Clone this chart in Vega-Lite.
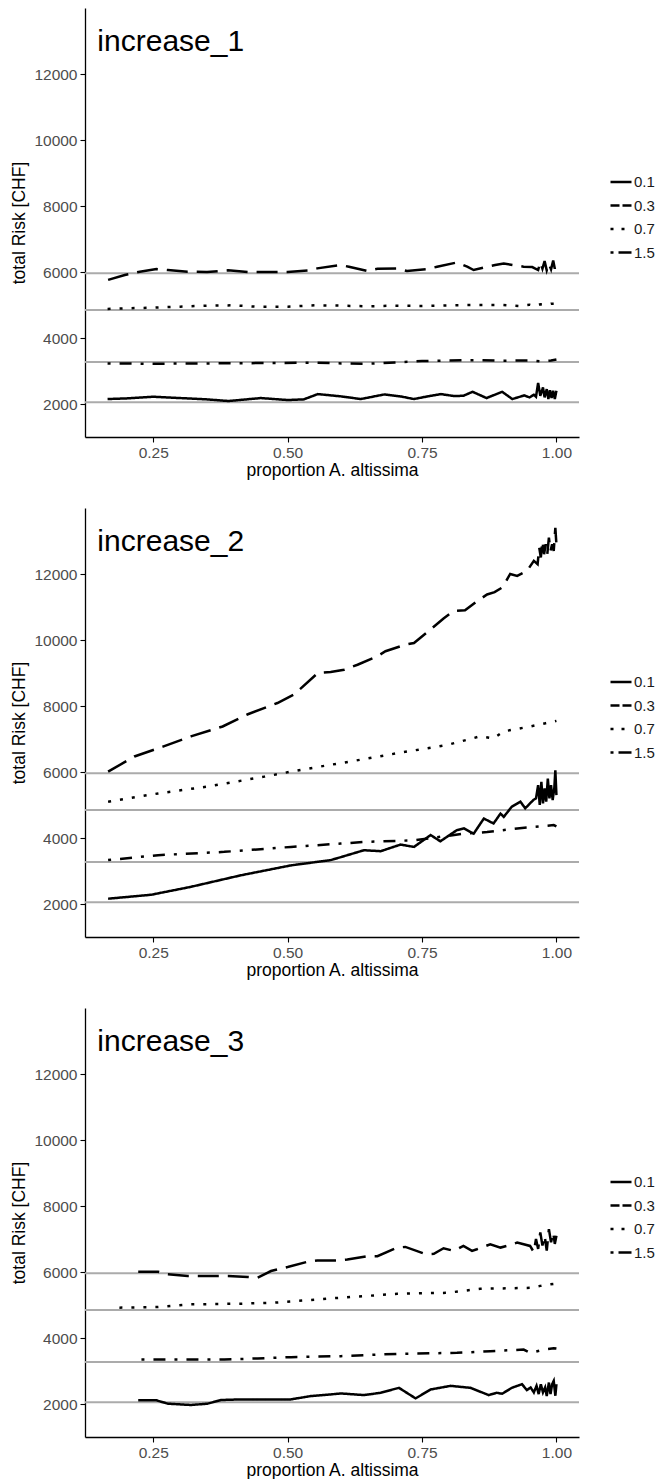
{
  "$schema": "https://vega.github.io/schema/vega-lite/v6.json",
  "padding": {"left": 10, "top": 8, "right": 0, "bottom": 0},
  "background": "white",
  "datasets": {
    "r": [{"y": 5960}, {"y": 4850}, {"y": 3275}, {"y": 2050}],
    "t": [
      {"p": 1, "x": 0.146, "y": 12700, "label": "increase_1"},
      {"p": 2, "x": 0.146, "y": 12700, "label": "increase_2"},
      {"p": 3, "x": 0.146, "y": 12700, "label": "increase_3"}
    ],
    "s": [
      {"p":1,"k":"0.1","x":0.165,"y":2150},{"p":1,"k":"0.1","x":0.2,"y":2170},{"p":1,"k":"0.1","x":0.25,"y":2220},{"p":1,"k":"0.1","x":0.3,"y":2180},{"p":1,"k":"0.1","x":0.35,"y":2140},{"p":1,"k":"0.1","x":0.39,"y":2090},{"p":1,"k":"0.1","x":0.45,"y":2180},{"p":1,"k":"0.1","x":0.5,"y":2120},{"p":1,"k":"0.1","x":0.53,"y":2140},{"p":1,"k":"0.1","x":0.556,"y":2300},{"p":1,"k":"0.1","x":0.6,"y":2230},{"p":1,"k":"0.1","x":0.636,"y":2150},{"p":1,"k":"0.1","x":0.68,"y":2290},{"p":1,"k":"0.1","x":0.71,"y":2230},{"p":1,"k":"0.1","x":0.735,"y":2150},{"p":1,"k":"0.1","x":0.76,"y":2230},{"p":1,"k":"0.1","x":0.785,"y":2300},{"p":1,"k":"0.1","x":0.81,"y":2240},{"p":1,"k":"0.1","x":0.827,"y":2250},{"p":1,"k":"0.1","x":0.844,"y":2370},{"p":1,"k":"0.1","x":0.87,"y":2180},{"p":1,"k":"0.1","x":0.899,"y":2370},{"p":1,"k":"0.1","x":0.918,"y":2150},{"p":1,"k":"0.1","x":0.94,"y":2260},{"p":1,"k":"0.1","x":0.95,"y":2200},{"p":1,"k":"0.1","x":0.958,"y":2280},{"p":1,"k":"0.1","x":0.962,"y":2220},{"p":1,"k":"0.1","x":0.966,"y":2640},{"p":1,"k":"0.1","x":0.97,"y":2250},{"p":1,"k":"0.1","x":0.975,"y":2500},{"p":1,"k":"0.1","x":0.978,"y":2200},{"p":1,"k":"0.1","x":0.982,"y":2450},{"p":1,"k":"0.1","x":0.985,"y":2150},{"p":1,"k":"0.1","x":0.988,"y":2420},{"p":1,"k":"0.1","x":0.991,"y":2180},{"p":1,"k":"0.1","x":0.994,"y":2400},{"p":1,"k":"0.1","x":0.997,"y":2150},{"p":1,"k":"0.1","x":1.0,"y":2400},
      {"p":1,"k":"0.3","x":0.166,"y":5760},{"p":1,"k":"0.3","x":0.197,"y":5910},{"p":1,"k":"0.3","x":0.225,"y":6010},{"p":1,"k":"0.3","x":0.256,"y":6090},{"p":1,"k":"0.3","x":0.277,"y":6060},{"p":1,"k":"0.3","x":0.314,"y":6010},{"p":1,"k":"0.3","x":0.35,"y":6000},{"p":1,"k":"0.3","x":0.389,"y":6050},{"p":1,"k":"0.3","x":0.426,"y":6000},{"p":1,"k":"0.3","x":0.46,"y":6000},{"p":1,"k":"0.3","x":0.5,"y":6000},{"p":1,"k":"0.3","x":0.54,"y":6050},{"p":1,"k":"0.3","x":0.555,"y":6110},{"p":1,"k":"0.3","x":0.599,"y":6210},{"p":1,"k":"0.3","x":0.614,"y":6160},{"p":1,"k":"0.3","x":0.648,"y":6030},{"p":1,"k":"0.3","x":0.667,"y":6100},{"p":1,"k":"0.3","x":0.704,"y":6110},{"p":1,"k":"0.3","x":0.722,"y":6030},{"p":1,"k":"0.3","x":0.76,"y":6090},{"p":1,"k":"0.3","x":0.778,"y":6160},{"p":1,"k":"0.3","x":0.815,"y":6290},{"p":1,"k":"0.3","x":0.834,"y":6160},{"p":1,"k":"0.3","x":0.846,"y":6060},{"p":1,"k":"0.3","x":0.871,"y":6160},{"p":1,"k":"0.3","x":0.886,"y":6210},{"p":1,"k":"0.3","x":0.902,"y":6260},{"p":1,"k":"0.3","x":0.92,"y":6210},{"p":1,"k":"0.3","x":0.939,"y":6160},{"p":1,"k":"0.3","x":0.955,"y":6150},{"p":1,"k":"0.3","x":0.966,"y":6060},{"p":1,"k":"0.3","x":0.97,"y":6300},{"p":1,"k":"0.3","x":0.974,"y":6100},{"p":1,"k":"0.3","x":0.978,"y":6330},{"p":1,"k":"0.3","x":0.982,"y":6050},{"p":1,"k":"0.3","x":0.986,"y":6250},{"p":1,"k":"0.3","x":0.99,"y":6080},{"p":1,"k":"0.3","x":0.994,"y":6350},{"p":1,"k":"0.3","x":0.997,"y":6100},{"p":1,"k":"0.3","x":1.0,"y":6300},
      {"p":1,"k":"0.7","x":0.165,"y":4880},{"p":1,"k":"0.7","x":0.2,"y":4900},{"p":1,"k":"0.7","x":0.25,"y":4920},{"p":1,"k":"0.7","x":0.3,"y":4950},{"p":1,"k":"0.7","x":0.35,"y":4980},{"p":1,"k":"0.7","x":0.4,"y":4990},{"p":1,"k":"0.7","x":0.44,"y":4950},{"p":1,"k":"0.7","x":0.5,"y":4950},{"p":1,"k":"0.7","x":0.55,"y":4990},{"p":1,"k":"0.7","x":0.6,"y":4980},{"p":1,"k":"0.7","x":0.65,"y":4960},{"p":1,"k":"0.7","x":0.7,"y":4980},{"p":1,"k":"0.7","x":0.75,"y":4970},{"p":1,"k":"0.7","x":0.8,"y":4990},{"p":1,"k":"0.7","x":0.85,"y":5000},{"p":1,"k":"0.7","x":0.9,"y":5000},{"p":1,"k":"0.7","x":0.93,"y":4970},{"p":1,"k":"0.7","x":0.95,"y":5010},{"p":1,"k":"0.7","x":0.96,"y":4970},{"p":1,"k":"0.7","x":0.97,"y":5020},{"p":1,"k":"0.7","x":0.98,"y":5000},{"p":1,"k":"0.7","x":0.99,"y":5040},{"p":1,"k":"0.7","x":1.0,"y":5040},
      {"p":1,"k":"1.5","x":0.165,"y":3230},{"p":1,"k":"1.5","x":0.25,"y":3220},{"p":1,"k":"1.5","x":0.35,"y":3230},{"p":1,"k":"1.5","x":0.45,"y":3240},{"p":1,"k":"1.5","x":0.55,"y":3250},{"p":1,"k":"1.5","x":0.6,"y":3230},{"p":1,"k":"1.5","x":0.65,"y":3220},{"p":1,"k":"1.5","x":0.7,"y":3260},{"p":1,"k":"1.5","x":0.75,"y":3300},{"p":1,"k":"1.5","x":0.8,"y":3320},{"p":1,"k":"1.5","x":0.85,"y":3330},{"p":1,"k":"1.5","x":0.9,"y":3310},{"p":1,"k":"1.5","x":0.95,"y":3320},{"p":1,"k":"1.5","x":0.97,"y":3290},{"p":1,"k":"1.5","x":0.99,"y":3320},{"p":1,"k":"1.5","x":1.0,"y":3350},
      {"p":2,"k":"0.1","x":0.166,"y":2160},{"p":2,"k":"0.1","x":0.246,"y":2280},{"p":2,"k":"0.1","x":0.32,"y":2520},{"p":2,"k":"0.1","x":0.413,"y":2870},{"p":2,"k":"0.1","x":0.506,"y":3170},{"p":2,"k":"0.1","x":0.58,"y":3330},{"p":2,"k":"0.1","x":0.599,"y":3420},{"p":2,"k":"0.1","x":0.642,"y":3630},{"p":2,"k":"0.1","x":0.673,"y":3600},{"p":2,"k":"0.1","x":0.71,"y":3800},{"p":2,"k":"0.1","x":0.735,"y":3730},{"p":2,"k":"0.1","x":0.766,"y":4090},{"p":2,"k":"0.1","x":0.784,"y":3900},{"p":2,"k":"0.1","x":0.815,"y":4240},{"p":2,"k":"0.1","x":0.828,"y":4290},{"p":2,"k":"0.1","x":0.846,"y":4130},{"p":2,"k":"0.1","x":0.865,"y":4590},{"p":2,"k":"0.1","x":0.883,"y":4440},{"p":2,"k":"0.1","x":0.896,"y":4740},{"p":2,"k":"0.1","x":0.902,"y":4640},{"p":2,"k":"0.1","x":0.917,"y":4950},{"p":2,"k":"0.1","x":0.933,"y":5100},{"p":2,"k":"0.1","x":0.942,"y":4900},{"p":2,"k":"0.1","x":0.957,"y":5150},{"p":2,"k":"0.1","x":0.962,"y":5200},{"p":2,"k":"0.1","x":0.966,"y":5600},{"p":2,"k":"0.1","x":0.969,"y":5000},{"p":2,"k":"0.1","x":0.972,"y":5700},{"p":2,"k":"0.1","x":0.975,"y":5050},{"p":2,"k":"0.1","x":0.978,"y":5500},{"p":2,"k":"0.1","x":0.981,"y":5100},{"p":2,"k":"0.1","x":0.984,"y":5800},{"p":2,"k":"0.1","x":0.987,"y":5200},{"p":2,"k":"0.1","x":0.99,"y":5600},{"p":2,"k":"0.1","x":0.993,"y":5150},{"p":2,"k":"0.1","x":0.996,"y":5500},{"p":2,"k":"0.1","x":0.998,"y":6050},{"p":2,"k":"0.1","x":1.0,"y":5300},
      {"p":2,"k":"0.3","x":0.166,"y":6010},{"p":2,"k":"0.3","x":0.215,"y":6470},{"p":2,"k":"0.3","x":0.268,"y":6770},{"p":2,"k":"0.3","x":0.32,"y":7080},{"p":2,"k":"0.3","x":0.379,"y":7380},{"p":2,"k":"0.3","x":0.426,"y":7750},{"p":2,"k":"0.3","x":0.481,"y":8090},{"p":2,"k":"0.3","x":0.512,"y":8350},{"p":2,"k":"0.3","x":0.556,"y":9000},{"p":2,"k":"0.3","x":0.58,"y":9030},{"p":2,"k":"0.3","x":0.605,"y":9100},{"p":2,"k":"0.3","x":0.63,"y":9250},{"p":2,"k":"0.3","x":0.667,"y":9510},{"p":2,"k":"0.3","x":0.682,"y":9660},{"p":2,"k":"0.3","x":0.719,"y":9860},{"p":2,"k":"0.3","x":0.735,"y":9910},{"p":2,"k":"0.3","x":0.766,"y":10320},{"p":2,"k":"0.3","x":0.79,"y":10650},{"p":2,"k":"0.3","x":0.809,"y":10880},{"p":2,"k":"0.3","x":0.83,"y":10900},{"p":2,"k":"0.3","x":0.85,"y":11150},{"p":2,"k":"0.3","x":0.871,"y":11380},{"p":2,"k":"0.3","x":0.885,"y":11450},{"p":2,"k":"0.3","x":0.9,"y":11600},{"p":2,"k":"0.3","x":0.914,"y":12000},{"p":2,"k":"0.3","x":0.927,"y":11940},{"p":2,"k":"0.3","x":0.945,"y":12090},{"p":2,"k":"0.3","x":0.958,"y":12400},{"p":2,"k":"0.3","x":0.965,"y":12300},{"p":2,"k":"0.3","x":0.968,"y":12800},{"p":2,"k":"0.3","x":0.971,"y":12500},{"p":2,"k":"0.3","x":0.974,"y":13000},{"p":2,"k":"0.3","x":0.977,"y":12600},{"p":2,"k":"0.3","x":0.98,"y":12900},{"p":2,"k":"0.3","x":0.983,"y":12600},{"p":2,"k":"0.3","x":0.986,"y":13100},{"p":2,"k":"0.3","x":0.989,"y":12700},{"p":2,"k":"0.3","x":0.992,"y":12900},{"p":2,"k":"0.3","x":0.995,"y":12700},{"p":2,"k":"0.3","x":0.998,"y":13400},{"p":2,"k":"0.3","x":1.0,"y":12900},
      {"p":2,"k":"0.7","x":0.166,"y":5100},{"p":2,"k":"0.7","x":0.259,"y":5350},{"p":2,"k":"0.7","x":0.351,"y":5560},{"p":2,"k":"0.7","x":0.457,"y":5860},{"p":2,"k":"0.7","x":0.506,"y":6010},{"p":2,"k":"0.7","x":0.58,"y":6220},{"p":2,"k":"0.7","x":0.6,"y":6270},{"p":2,"k":"0.7","x":0.704,"y":6570},{"p":2,"k":"0.7","x":0.797,"y":6820},{"p":2,"k":"0.7","x":0.858,"y":7080},{"p":2,"k":"0.7","x":0.883,"y":7020},{"p":2,"k":"0.7","x":0.902,"y":7230},{"p":2,"k":"0.7","x":0.951,"y":7380},{"p":2,"k":"0.7","x":0.98,"y":7480},{"p":2,"k":"0.7","x":0.995,"y":7530},{"p":2,"k":"0.7","x":1.0,"y":7550},
      {"p":2,"k":"1.5","x":0.166,"y":3330},{"p":2,"k":"1.5","x":0.259,"y":3480},{"p":2,"k":"1.5","x":0.382,"y":3580},{"p":2,"k":"1.5","x":0.506,"y":3730},{"p":2,"k":"1.5","x":0.599,"y":3830},{"p":2,"k":"1.5","x":0.642,"y":3880},{"p":2,"k":"1.5","x":0.735,"y":3930},{"p":2,"k":"1.5","x":0.828,"y":4130},{"p":2,"k":"1.5","x":0.871,"y":4180},{"p":2,"k":"1.5","x":0.927,"y":4290},{"p":2,"k":"1.5","x":0.97,"y":4350},{"p":2,"k":"1.5","x":0.995,"y":4390},{"p":2,"k":"1.5","x":1.0,"y":4350},
      {"p":3,"k":"0.1","x":0.222,"y":2110},{"p":3,"k":"0.1","x":0.256,"y":2110},{"p":3,"k":"0.1","x":0.277,"y":2010},{"p":3,"k":"0.1","x":0.32,"y":1970},{"p":3,"k":"0.1","x":0.351,"y":2010},{"p":3,"k":"0.1","x":0.376,"y":2120},{"p":3,"k":"0.1","x":0.413,"y":2140},{"p":3,"k":"0.1","x":0.506,"y":2140},{"p":3,"k":"0.1","x":0.543,"y":2240},{"p":3,"k":"0.1","x":0.58,"y":2290},{"p":3,"k":"0.1","x":0.599,"y":2320},{"p":3,"k":"0.1","x":0.642,"y":2270},{"p":3,"k":"0.1","x":0.673,"y":2340},{"p":3,"k":"0.1","x":0.707,"y":2490},{"p":3,"k":"0.1","x":0.738,"y":2170},{"p":3,"k":"0.1","x":0.766,"y":2440},{"p":3,"k":"0.1","x":0.803,"y":2550},{"p":3,"k":"0.1","x":0.84,"y":2490},{"p":3,"k":"0.1","x":0.874,"y":2270},{"p":3,"k":"0.1","x":0.889,"y":2340},{"p":3,"k":"0.1","x":0.899,"y":2310},{"p":3,"k":"0.1","x":0.917,"y":2490},{"p":3,"k":"0.1","x":0.936,"y":2600},{"p":3,"k":"0.1","x":0.945,"y":2420},{"p":3,"k":"0.1","x":0.952,"y":2500},{"p":3,"k":"0.1","x":0.958,"y":2350},{"p":3,"k":"0.1","x":0.963,"y":2550},{"p":3,"k":"0.1","x":0.967,"y":2300},{"p":3,"k":"0.1","x":0.971,"y":2600},{"p":3,"k":"0.1","x":0.975,"y":2350},{"p":3,"k":"0.1","x":0.979,"y":2500},{"p":3,"k":"0.1","x":0.982,"y":2240},{"p":3,"k":"0.1","x":0.986,"y":2650},{"p":3,"k":"0.1","x":0.989,"y":2300},{"p":3,"k":"0.1","x":0.992,"y":2600},{"p":3,"k":"0.1","x":0.995,"y":2700},{"p":3,"k":"0.1","x":0.998,"y":2250},{"p":3,"k":"0.1","x":1.0,"y":2600},
      {"p":3,"k":"0.3","x":0.222,"y":6010},{"p":3,"k":"0.3","x":0.259,"y":6010},{"p":3,"k":"0.3","x":0.277,"y":5930},{"p":3,"k":"0.3","x":0.314,"y":5880},{"p":3,"k":"0.3","x":0.37,"y":5880},{"p":3,"k":"0.3","x":0.389,"y":5880},{"p":3,"k":"0.3","x":0.426,"y":5850},{"p":3,"k":"0.3","x":0.444,"y":5830},{"p":3,"k":"0.3","x":0.469,"y":6030},{"p":3,"k":"0.3","x":0.5,"y":6150},{"p":3,"k":"0.3","x":0.537,"y":6310},{"p":3,"k":"0.3","x":0.555,"y":6350},{"p":3,"k":"0.3","x":0.592,"y":6350},{"p":3,"k":"0.3","x":0.611,"y":6380},{"p":3,"k":"0.3","x":0.648,"y":6480},{"p":3,"k":"0.3","x":0.667,"y":6480},{"p":3,"k":"0.3","x":0.704,"y":6740},{"p":3,"k":"0.3","x":0.719,"y":6760},{"p":3,"k":"0.3","x":0.757,"y":6540},{"p":3,"k":"0.3","x":0.772,"y":6550},{"p":3,"k":"0.3","x":0.79,"y":6720},{"p":3,"k":"0.3","x":0.809,"y":6640},{"p":3,"k":"0.3","x":0.827,"y":6790},{"p":3,"k":"0.3","x":0.843,"y":6640},{"p":3,"k":"0.3","x":0.852,"y":6690},{"p":3,"k":"0.3","x":0.877,"y":6840},{"p":3,"k":"0.3","x":0.896,"y":6740},{"p":3,"k":"0.3","x":0.908,"y":6790},{"p":3,"k":"0.3","x":0.927,"y":6890},{"p":3,"k":"0.3","x":0.951,"y":6790},{"p":3,"k":"0.3","x":0.958,"y":6600},{"p":3,"k":"0.3","x":0.962,"y":7000},{"p":3,"k":"0.3","x":0.966,"y":6700},{"p":3,"k":"0.3","x":0.97,"y":7200},{"p":3,"k":"0.3","x":0.974,"y":6800},{"p":3,"k":"0.3","x":0.978,"y":7100},{"p":3,"k":"0.3","x":0.982,"y":6650},{"p":3,"k":"0.3","x":0.986,"y":7300},{"p":3,"k":"0.3","x":0.99,"y":6900},{"p":3,"k":"0.3","x":0.994,"y":7200},{"p":3,"k":"0.3","x":0.997,"y":6850},{"p":3,"k":"0.3","x":1.0,"y":7100},
      {"p":3,"k":"0.7","x":0.187,"y":4920},{"p":3,"k":"0.7","x":0.259,"y":4940},{"p":3,"k":"0.7","x":0.32,"y":5020},{"p":3,"k":"0.7","x":0.413,"y":5040},{"p":3,"k":"0.7","x":0.475,"y":5070},{"p":3,"k":"0.7","x":0.58,"y":5200},{"p":3,"k":"0.7","x":0.599,"y":5220},{"p":3,"k":"0.7","x":0.704,"y":5340},{"p":3,"k":"0.7","x":0.797,"y":5370},{"p":3,"k":"0.7","x":0.858,"y":5490},{"p":3,"k":"0.7","x":0.951,"y":5520},{"p":3,"k":"0.7","x":0.97,"y":5580},{"p":3,"k":"0.7","x":0.985,"y":5620},{"p":3,"k":"0.7","x":0.995,"y":5640},{"p":3,"k":"0.7","x":1.0,"y":5650},
      {"p":3,"k":"1.5","x":0.228,"y":3350},{"p":3,"k":"1.5","x":0.32,"y":3350},{"p":3,"k":"1.5","x":0.382,"y":3350},{"p":3,"k":"1.5","x":0.444,"y":3380},{"p":3,"k":"1.5","x":0.506,"y":3420},{"p":3,"k":"1.5","x":0.599,"y":3450},{"p":3,"k":"1.5","x":0.704,"y":3520},{"p":3,"k":"1.5","x":0.815,"y":3550},{"p":3,"k":"1.5","x":0.877,"y":3600},{"p":3,"k":"1.5","x":0.939,"y":3650},{"p":3,"k":"1.5","x":0.951,"y":3550},{"p":3,"k":"1.5","x":0.975,"y":3640},{"p":3,"k":"1.5","x":0.995,"y":3690},{"p":3,"k":"1.5","x":1.0,"y":3680}
    ]
  },
  "spacing": 29,
  "resolve": {"scale": {"strokeDash": "independent"}, "legend": {"strokeDash": "independent"}},
  "vconcat": [
    {
      "width": 494, "height": 429,
      "resolve": {"scale": {"strokeDash": "independent"}},
      "layer": [
        {"data": {"name": "r"}, "mark": {"type": "rule", "color": "#ababab", "strokeWidth": 2},
         "encoding": {"y": {"field": "y", "type": "quantitative", "scale": {"domain": [1000, 14000], "nice": false}, "axis": {"title": "total Risk [CHF]", "values": [2000, 4000, 6000, 8000, 10000, 12000], "format": "d"}}}},
        {"data": {"name": "s"}, "transform": [{"filter": "datum.p == 1"}],
         "mark": {"type": "line", "color": "black", "strokeWidth": 2.5},
         "encoding": {
           "x": {"field": "x", "type": "quantitative", "scale": {"domain": [0.123, 1.042], "nice": false, "zero": false}, "axis": {"title": "proportion A. altissima", "values": [0.25, 0.5, 0.75, 1], "format": ".2f"}},
           "y": {"field": "y", "type": "quantitative", "scale": {"domain": [1000, 14000], "nice": false}, "axis": {"title": "total Risk [CHF]", "values": [2000, 4000, 6000, 8000, 10000, 12000], "format": "d"}},
           "strokeDash": {"field": "k", "type": "nominal", "scale": {"domain": ["0.1", "0.3", "0.7", "1.5"], "range": [[1, 0], [21, 9], [3, 9], [3, 9, 12, 9]]}, "legend": null}
         }},
        {"data": {"name": "s"}, "transform": [{"filter": "datum.p == 1"}],
         "mark": {"type": "line", "color": "black", "strokeWidth": 2.5, "opacity": 0},
         "encoding": {
           "x": {"field": "x", "type": "quantitative", "scale": {"domain": [0.123, 1.042], "nice": false, "zero": false}, "axis": {"title": "proportion A. altissima", "values": [0.25, 0.5, 0.75, 1], "format": ".2f"}},
           "y": {"field": "y", "type": "quantitative", "scale": {"domain": [1000, 14000], "nice": false}, "axis": {"title": "total Risk [CHF]", "values": [2000, 4000, 6000, 8000, 10000, 12000], "format": "d"}},
           "strokeDash": {"field": "k", "type": "nominal", "scale": {"domain": ["0.1", "0.3", "0.7", "1.5"], "range": [[1, 0], [9, 3], [3, 8], [3, 5, 14, 10]]},
             "legend": {"orient": "none", "legendX": 524, "legendY": 162, "title": null, "symbolType": "stroke", "symbolSize": 441, "symbolStrokeWidth": 2.5, "symbolStrokeColor": "black", "symbolOpacity": 1, "labelFontSize": 15, "labelColor": "#1a1a1a", "labelOffset": 1, "rowPadding": 3.5, "padding": 0}}
         }},
        {"data": {"name": "t"}, "transform": [{"filter": "datum.p == 1"}],
         "mark": {"type": "text", "align": "left", "baseline": "alphabetic", "fontSize": 30, "color": "black"},
         "encoding": {
           "x": {"field": "x", "type": "quantitative", "scale": {"domain": [0.123, 1.042], "nice": false, "zero": false}, "axis": {"title": "proportion A. altissima", "values": [0.25, 0.5, 0.75, 1], "format": ".2f"}},
           "y": {"field": "y", "type": "quantitative", "scale": {"domain": [1000, 14000], "nice": false}, "axis": {"title": "total Risk [CHF]", "values": [2000, 4000, 6000, 8000, 10000, 12000], "format": "d"}},
           "text": {"field": "label"}}}
      ]
    },
    {
      "width": 494, "height": 429,
      "resolve": {"scale": {"strokeDash": "independent"}},
      "layer": [
        {"data": {"name": "r"}, "mark": {"type": "rule", "color": "#ababab", "strokeWidth": 2},
         "encoding": {"y": {"field": "y", "type": "quantitative", "scale": {"domain": [1000, 14000], "nice": false}, "axis": {"title": "total Risk [CHF]", "values": [2000, 4000, 6000, 8000, 10000, 12000], "format": "d"}}}},
        {"data": {"name": "s"}, "transform": [{"filter": "datum.p == 2"}],
         "mark": {"type": "line", "color": "black", "strokeWidth": 2.5},
         "encoding": {
           "x": {"field": "x", "type": "quantitative", "scale": {"domain": [0.123, 1.042], "nice": false, "zero": false}, "axis": {"title": "proportion A. altissima", "values": [0.25, 0.5, 0.75, 1], "format": ".2f"}},
           "y": {"field": "y", "type": "quantitative", "scale": {"domain": [1000, 14000], "nice": false}, "axis": {"title": "total Risk [CHF]", "values": [2000, 4000, 6000, 8000, 10000, 12000], "format": "d"}},
           "strokeDash": {"field": "k", "type": "nominal", "scale": {"domain": ["0.1", "0.3", "0.7", "1.5"], "range": [[1, 0], [21, 9], [3, 9], [3, 9, 12, 9]]}, "legend": null}
         }},
        {"data": {"name": "s"}, "transform": [{"filter": "datum.p == 2"}],
         "mark": {"type": "line", "color": "black", "strokeWidth": 2.5, "opacity": 0},
         "encoding": {
           "x": {"field": "x", "type": "quantitative", "scale": {"domain": [0.123, 1.042], "nice": false, "zero": false}, "axis": {"title": "proportion A. altissima", "values": [0.25, 0.5, 0.75, 1], "format": ".2f"}},
           "y": {"field": "y", "type": "quantitative", "scale": {"domain": [1000, 14000], "nice": false}, "axis": {"title": "total Risk [CHF]", "values": [2000, 4000, 6000, 8000, 10000, 12000], "format": "d"}},
           "strokeDash": {"field": "k", "type": "nominal", "scale": {"domain": ["0.1", "0.3", "0.7", "1.5"], "range": [[1, 0], [9, 3], [3, 8], [3, 5, 14, 10]]},
             "legend": {"orient": "none", "legendX": 524, "legendY": 162, "title": null, "symbolType": "stroke", "symbolSize": 441, "symbolStrokeWidth": 2.5, "symbolStrokeColor": "black", "symbolOpacity": 1, "labelFontSize": 15, "labelColor": "#1a1a1a", "labelOffset": 1, "rowPadding": 3.5, "padding": 0}}
         }},
        {"data": {"name": "t"}, "transform": [{"filter": "datum.p == 2"}],
         "mark": {"type": "text", "align": "left", "baseline": "alphabetic", "fontSize": 30, "color": "black"},
         "encoding": {
           "x": {"field": "x", "type": "quantitative", "scale": {"domain": [0.123, 1.042], "nice": false, "zero": false}, "axis": {"title": "proportion A. altissima", "values": [0.25, 0.5, 0.75, 1], "format": ".2f"}},
           "y": {"field": "y", "type": "quantitative", "scale": {"domain": [1000, 14000], "nice": false}, "axis": {"title": "total Risk [CHF]", "values": [2000, 4000, 6000, 8000, 10000, 12000], "format": "d"}},
           "text": {"field": "label"}}}
      ]
    },
    {
      "width": 494, "height": 429,
      "resolve": {"scale": {"strokeDash": "independent"}},
      "layer": [
        {"data": {"name": "r"}, "mark": {"type": "rule", "color": "#ababab", "strokeWidth": 2},
         "encoding": {"y": {"field": "y", "type": "quantitative", "scale": {"domain": [1000, 14000], "nice": false}, "axis": {"title": "total Risk [CHF]", "values": [2000, 4000, 6000, 8000, 10000, 12000], "format": "d"}}}},
        {"data": {"name": "s"}, "transform": [{"filter": "datum.p == 3"}],
         "mark": {"type": "line", "color": "black", "strokeWidth": 2.5},
         "encoding": {
           "x": {"field": "x", "type": "quantitative", "scale": {"domain": [0.123, 1.042], "nice": false, "zero": false}, "axis": {"title": "proportion A. altissima", "values": [0.25, 0.5, 0.75, 1], "format": ".2f"}},
           "y": {"field": "y", "type": "quantitative", "scale": {"domain": [1000, 14000], "nice": false}, "axis": {"title": "total Risk [CHF]", "values": [2000, 4000, 6000, 8000, 10000, 12000], "format": "d"}},
           "strokeDash": {"field": "k", "type": "nominal", "scale": {"domain": ["0.1", "0.3", "0.7", "1.5"], "range": [[1, 0], [21, 9], [3, 9], [3, 9, 12, 9]]}, "legend": null}
         }},
        {"data": {"name": "s"}, "transform": [{"filter": "datum.p == 3"}],
         "mark": {"type": "line", "color": "black", "strokeWidth": 2.5, "opacity": 0},
         "encoding": {
           "x": {"field": "x", "type": "quantitative", "scale": {"domain": [0.123, 1.042], "nice": false, "zero": false}, "axis": {"title": "proportion A. altissima", "values": [0.25, 0.5, 0.75, 1], "format": ".2f"}},
           "y": {"field": "y", "type": "quantitative", "scale": {"domain": [1000, 14000], "nice": false}, "axis": {"title": "total Risk [CHF]", "values": [2000, 4000, 6000, 8000, 10000, 12000], "format": "d"}},
           "strokeDash": {"field": "k", "type": "nominal", "scale": {"domain": ["0.1", "0.3", "0.7", "1.5"], "range": [[1, 0], [9, 3], [3, 8], [3, 5, 14, 10]]},
             "legend": {"orient": "none", "legendX": 524, "legendY": 162, "title": null, "symbolType": "stroke", "symbolSize": 441, "symbolStrokeWidth": 2.5, "symbolStrokeColor": "black", "symbolOpacity": 1, "labelFontSize": 15, "labelColor": "#1a1a1a", "labelOffset": 1, "rowPadding": 3.5, "padding": 0}}
         }},
        {"data": {"name": "t"}, "transform": [{"filter": "datum.p == 3"}],
         "mark": {"type": "text", "align": "left", "baseline": "alphabetic", "fontSize": 30, "color": "black"},
         "encoding": {
           "x": {"field": "x", "type": "quantitative", "scale": {"domain": [0.123, 1.042], "nice": false, "zero": false}, "axis": {"title": "proportion A. altissima", "values": [0.25, 0.5, 0.75, 1], "format": ".2f"}},
           "y": {"field": "y", "type": "quantitative", "scale": {"domain": [1000, 14000], "nice": false}, "axis": {"title": "total Risk [CHF]", "values": [2000, 4000, 6000, 8000, 10000, 12000], "format": "d"}},
           "text": {"field": "label"}}}
      ]
    }
  ],
  "config": {
    "view": {"stroke": null},
    "font": "Liberation Sans",
    "axis": {"domainColor": "black", "domainWidth": 1.3, "tickColor": "black", "tickWidth": 1.1, "tickSize": 5, "labelColor": "#4d4d4d", "labelFontSize": 15.5, "titleFontSize": 17.5, "titleFontWeight": "normal", "titleColor": "black", "grid": false, "labelPadding": 3},
    "axisY": {"titlePadding": 5},
    "axisX": {"titlePadding": 1}
  }
}
